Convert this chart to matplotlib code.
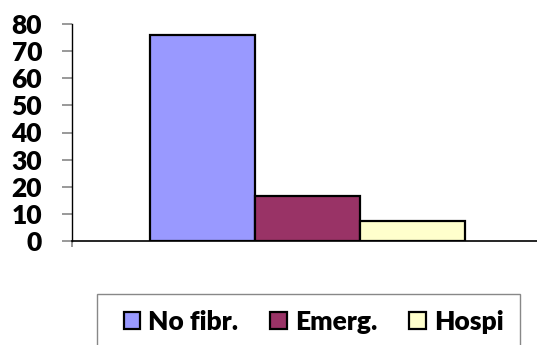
import matplotlib
matplotlib.use("Agg")
import matplotlib.pyplot as plt
from matplotlib.patches import Rectangle

categories = ["No fibr.", "Emerg.", "Hospi"]
values = [75.8, 16.7, 7.5]
colors = ["#9999FF", "#993366", "#FFFFCC"]
yticks = [0, 10, 20, 30, 40, 50, 60, 70, 80]

W, H = 537, 345
fig = plt.figure(figsize=(W / 100, H / 100), dpi=100)
plt.rcParams["font.family"] = ["Lato", "DejaVu Sans"]
WEIGHT = "heavy"

ax = fig.add_axes([71.5 / W, (H - 241) / H, (W - 71.5) / W, 217 / H])

bar_w = 0.222
offsets = [-bar_w, 0.0, bar_w]
handles = []
for name, val, col, off in zip(categories, values, colors, offsets):
    h = ax.bar(off, val, width=bar_w, color=col, edgecolor="black",
               linewidth=1.6, label=name, zorder=3)
    handles.append(h)

ax.set_xlim(-0.5, 0.485)
ax.set_ylim(0, 80)
ax.set_yticks(yticks)
ax.set_yticklabels([str(t) for t in yticks], fontsize=19, fontweight=WEIGHT)
ax.tick_params(axis="y", direction="out", length=7.2, width=1.2,
               color="#888888", pad=14)
ax.set_xticks([-0.5])
ax.set_xticklabels([""])
ax.tick_params(axis="x", direction="out", length=4, width=1.2, color="#888888")

for s in ("top", "right"):
    ax.spines[s].set_visible(False)
ax.spines["left"].set_color("black")
ax.spines["bottom"].set_color("black")
ax.spines["left"].set_linewidth(1.0)
ax.spines["bottom"].set_linewidth(1.2)

# legend frame extending past the bottom edge
fig.patches.append(Rectangle((97 / W, -0.1), 423 / W, (H - 294) / H + 0.1,
                             transform=fig.transFigure, fill=False,
                             edgecolor="#888888", linewidth=1.0))

leg = fig.legend(handles=handles, labels=categories, ncol=3,
                 loc="center", bbox_to_anchor=(313.5 / W, (H - 322) / H),
                 frameon=False, prop={"size": 19, "weight": WEIGHT},
                 handlelength=0.64, handleheight=0.64, handletextpad=0.3,
                 columnspacing=1.2, borderpad=0, borderaxespad=0)

fig.savefig("out.png", dpi=100)
